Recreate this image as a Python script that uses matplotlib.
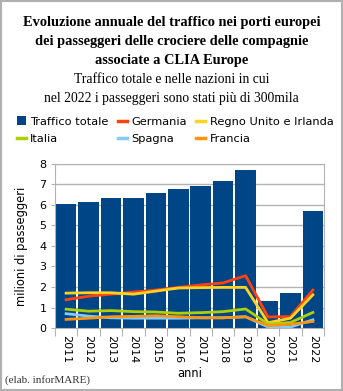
import matplotlib
matplotlib.use("Agg")
import matplotlib.pyplot as plt
from matplotlib.patches import Patch
from matplotlib.lines import Line2D
import numpy as np

# ── Data (milioni di passeggeri) ─────────────────────────────────────────────
anni = ["2011", "2012", "2013", "2014", "2015", "2016",
        "2017", "2018", "2019", "2020", "2021", "2022"]
totale = [6.05, 6.12, 6.33, 6.35, 6.57, 6.77, 6.94, 7.14, 7.70, 1.32, 1.72, 5.70]
germania = [1.38, 1.55, 1.65, 1.75, 1.85, 1.98, 2.10, 2.20, 2.55, 0.54, 0.56, 1.85]
regno_unito = [1.70, 1.72, 1.72, 1.65, 1.80, 1.95, 1.97, 1.98, 1.98, 0.26, 0.48, 1.62]
italia = [0.92, 0.82, 0.85, 0.80, 0.78, 0.72, 0.75, 0.80, 0.93, 0.20, 0.27, 0.76]
spagna = [0.70, 0.58, 0.50, 0.48, 0.48, 0.48, 0.50, 0.50, 0.55, 0.05, 0.05, 0.40]
francia = [0.42, 0.48, 0.55, 0.57, 0.60, 0.55, 0.50, 0.50, 0.55, 0.12, 0.18, 0.32]

series = [
    ("Germania", germania, "#ff420e"),
    ("Regno Unito e Irlanda", regno_unito, "#ffd320"),
    ("Italia", italia, "#aecf00"),
    ("Spagna", spagna, "#83caff"),
    ("Francia", francia, "#ff950e"),
]
bar_color = "#004586"

# ── Figure ───────────────────────────────────────────────────────────────────
fig = plt.figure(figsize=(3.43, 3.91), dpi=100)
fig.patch.set_facecolor("white")
fig.patches.append(plt.Rectangle((0.0015, 0.0015), 0.997, 0.997, transform=fig.transFigure,
                                 fill=False, edgecolor="#b0b0b0", linewidth=1.5))

serif = ["Liberation Serif", "DejaVu Serif"]
fig.text(0.5, 0.942, "Evoluzione annuale del traffico nei porti europei", ha="center",
         va="center", family=serif, fontweight="bold", fontsize=10.4)
fig.text(0.5, 0.893, "dei passeggeri delle crociere delle compagnie", ha="center",
         va="center", family=serif, fontweight="bold", fontsize=10.4)
fig.text(0.5, 0.845, "associate a CLIA Europe", ha="center",
         va="center", family=serif, fontweight="bold", fontsize=10.4)
fig.text(0.5, 0.796, "Traffico totale e nelle nazioni in cui", ha="center",
         va="center", family=serif, fontsize=9.8)
fig.text(0.5, 0.749, "nel 2022 i passeggeri sono stati più di 300mila", ha="center",
         va="center", family=serif, fontsize=9.8)

ax = fig.add_axes([0.160, 0.161, 0.785, 0.420])
x = np.arange(1, len(anni) + 1)
ax.bar(x, totale, width=0.92, color=bar_color, zorder=2)
for name, vals, col in series:
    ax.plot(x, vals, color=col, linewidth=2, zorder=3)

ax.set_xlim(0.5, len(anni) + 0.5)
ax.set_ylim(0, 8)
ax.set_yticks(range(0, 9))
ax.yaxis.grid(True, color="#b3b3b3", linewidth=1, zorder=0)
ax.set_xticks(np.arange(0.5, len(anni) + 1, 1))
ax.set_xticklabels([])
ax.set_xticks(x, minor=True)
ax.set_xticklabels(anni, minor=True, rotation=-90, fontsize=8)
ax.tick_params(axis="x", which="major", length=6, color="#b3b3b3")
ax.tick_params(axis="x", which="minor", length=0, pad=5)
ax.tick_params(axis="y", length=3, color="#b3b3b3", labelsize=8, pad=3)
for s in ax.spines.values():
    s.set_color("#b3b3b3")
ax.set_ylabel("milioni di passeggeri", fontsize=8.3)
ax.yaxis.set_label_coords(-0.1, 0.5)
ax.set_xlabel("anni", fontsize=8.3)
ax.xaxis.set_label_coords(0.5, -0.235)

handles = [Patch(facecolor=bar_color, label="Traffico totale")]
handles += [Line2D([0], [0], color=col, linewidth=2.5, label=name) for name, _, col in series]
# order so columns read like the reference: rows fill left to right
order = [0, 3, 1, 4, 2, 5]
fig.legend([handles[i] for i in order], [handles[i].get_label() for i in order],
           ncol=3, loc="center", bbox_to_anchor=(0.51, 0.667), frameon=False,
           fontsize=8.2, handlelength=0.8, handleheight=0.8, handletextpad=0.4,
           columnspacing=0.8, labelspacing=0.6)

fig.text(0.015, 0.02, "(elab. inforMARE)", family=serif, fontsize=8, color="#333333")

fig.savefig("out.png", dpi=100)
